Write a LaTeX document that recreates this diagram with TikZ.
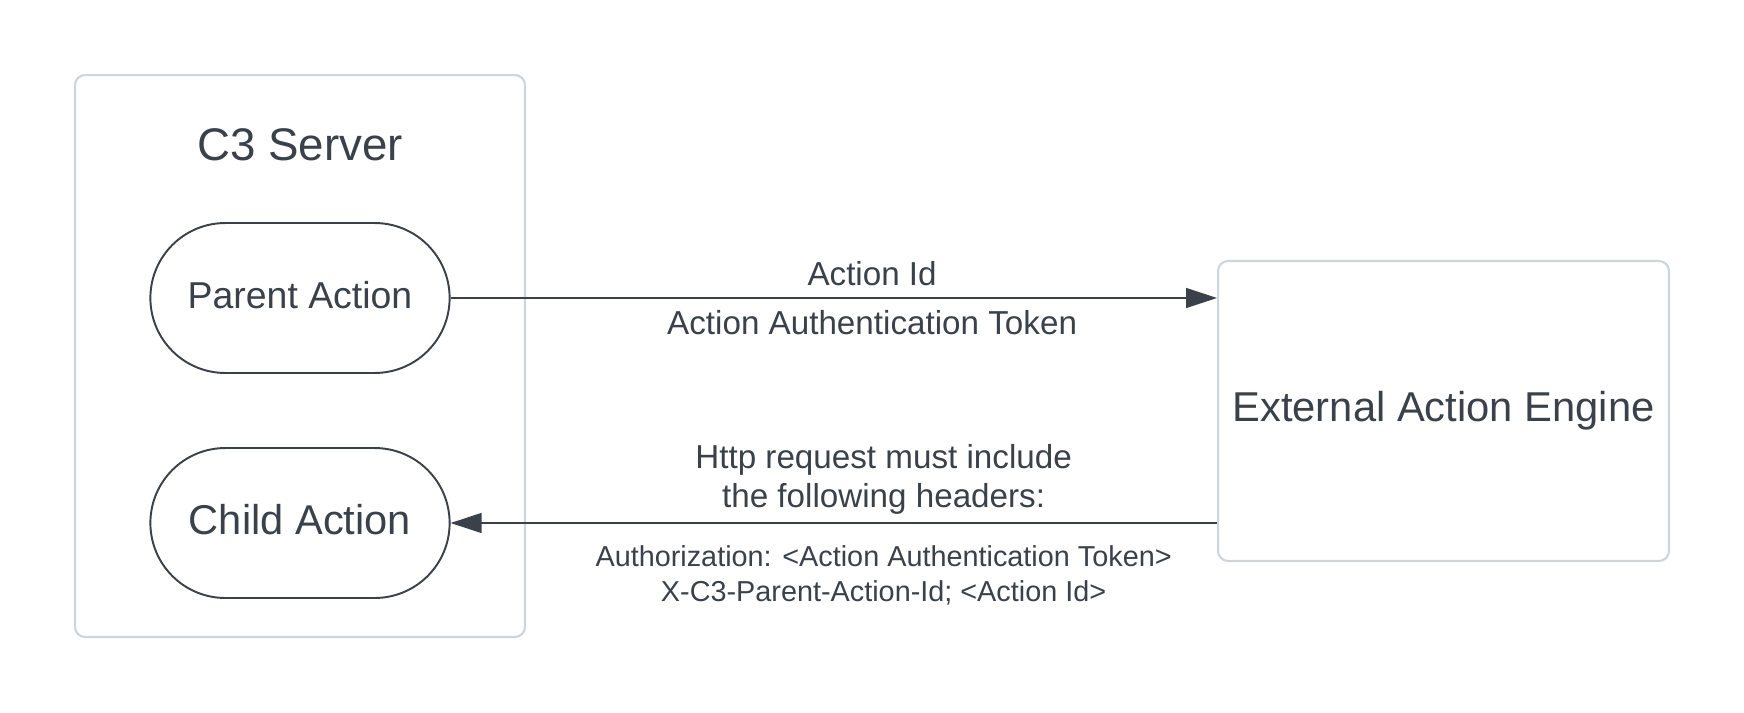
\documentclass[tikz,border=0pt]{standalone}
\usepackage{fontspec}
\setmainfont{Liberation Sans}
\usetikzlibrary{shapes.misc, arrows.meta, positioning}
\definecolor{ink}{RGB}{58,65,74}
\definecolor{frame}{RGB}{206,212,219}

\begin{document}
\begin{tikzpicture}[x=0.02cm, y=-0.02cm, every node/.style={text=ink},
    container/.style={draw=frame, line width=1.2pt, rounded corners=0.2cm, minimum width=9cm, minimum height=11.24cm},
    action/.style={draw=ink, line width=1.1pt, rounded rectangle, minimum width=6.22cm, minimum height=3cm, text depth=4pt},
    engine/.style={draw=frame, line width=1.2pt, rounded corners=0.2cm, minimum width=9.02cm, minimum height=6cm, font=\fontsize{23.75}{28}\selectfont},
    arr/.style={draw=ink, line width=0.75pt, -{Triangle[length=0.62cm, width=0.4cm]}}]
    \useasboundingbox (0,0) rectangle (1744,713);

    % C3 server
    \node[container] (server) at (300,356) {};
    \node[anchor=base, font=\fontsize{26}{30}\selectfont] (title) at (300,160) {C3 Server};
    \node[action, font=\fontsize{21.3}{25}\selectfont] (parent) at (300,298) {Parent Action};
    \node[action, font=\fontsize{23.7}{28}\selectfont] (child) at (300,523) {Child Action};

    % External engine
    \node[engine] (engine) at (1443.5,411) {External Action Engine};

    % Arrows
    \draw[arr] (parent.east) -- node[above, pos=0.55, inner sep=6.8pt, font=\fontsize{18.9}{22}\selectfont] (idlbl) {Action Id}
        node[below, pos=0.55, inner sep=6.6pt, font=\fontsize{18.9}{22}\selectfont] (toklbl) {Action Authentication Token}
        (parent.east -| engine.west);
    \draw[arr] (child.east -| engine.west) -- node[above, pos=0.435, inner sep=4.8pt, align=center, font=\fontsize{18.9}{22}\selectfont] (httplbl) {Http request must include\\the following headers:}
        node[below, pos=0.435, inner sep=12.5pt, align=center, font=\fontsize{16.4}{19.8}\selectfont] (hdrlbl) {Authorization: <Action Authentication Token>\\X-C3-Parent-Action-Id; <Action Id>}
        (child.east);
\end{tikzpicture}
\end{document}
